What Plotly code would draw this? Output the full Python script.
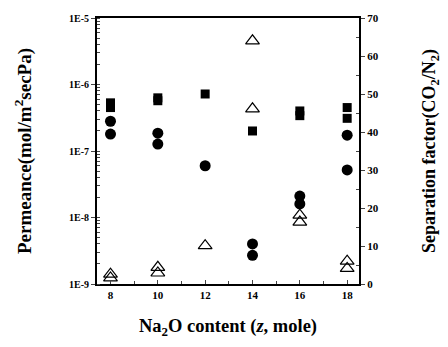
import plotly.graph_objects as go

# Data
sq_x = [8, 8, 10, 10, 12, 14, 16, 16, 18, 18]
sq_y = [5.3e-7, 4.5e-7, 6.3e-7, 5.7e-7, 7.2e-7, 2.0e-7, 4.0e-7, 3.4e-7, 4.5e-7, 3.1e-7]

ci_x = [8, 8, 10, 10, 12, 14, 14, 16, 16, 18, 18]
ci_y = [2.8e-7, 1.8e-7, 1.85e-7, 1.27e-7, 6.0e-8, 4.0e-9, 2.7e-9, 2.1e-8, 1.6e-8, 1.73e-7, 5.2e-8]

tr_x = [8, 8, 10, 10, 12, 14, 14, 16, 16, 18, 18]
tr_y = [2.6, 1.6, 4.4, 2.9, 10.1, 64.0, 46.1, 18.1, 16.3, 6.0, 4.1]

left_tickvals = [1e-9, 1e-8, 1e-7, 1e-6, 1e-5]
left_ticktext = ["1E-9", "1E-8", "1E-7", "1E-6", "1E-5"]
x_ticks = [8, 10, 12, 14, 16, 18]
right_ticks = [0, 10, 20, 30, 40, 50, 60, 70]

FONT = "Liberation Serif"

fig = go.Figure()
fig.add_trace(go.Scatter(x=sq_x, y=sq_y, mode="markers", yaxis="y",
                         marker=dict(symbol="square", size=9, color="black"),
                         showlegend=False))
fig.add_trace(go.Scatter(x=ci_x, y=ci_y, mode="markers", yaxis="y",
                         marker=dict(symbol="circle", size=11, color="black"),
                         showlegend=False))
fig.add_trace(go.Scatter(x=tr_x, y=tr_y, mode="markers", yaxis="y2",
                         marker=dict(symbol="triangle-up-open", size=12, color="black",
                                     line=dict(width=1.2, color="black")),
                         showlegend=False))

fig.update_layout(
    width=448, height=347,
    margin=dict(l=97, r=78, t=14, b=63),
    paper_bgcolor="white", plot_bgcolor="white",
    font=dict(family=FONT, color="black"),
    xaxis=dict(
        range=[7.43, 18.5], tickvals=x_ticks, ticks="inside", ticklen=4,
        showline=True, linecolor="black", linewidth=2, mirror=True,
        showgrid=False, zeroline=False,
        tickfont=dict(family=FONT, size=11, color="black", weight="bold"),
        minor=dict(tickvals=[9, 11, 13, 15, 17], ticks="inside", ticklen=3, showgrid=False),
        title=dict(text="Na<sub>2</sub>O content (<i>z</i>, mole)",
                   font=dict(family=FONT, size=18.5, color="black", weight="bold"),
                   standoff=19),
    ),
    yaxis=dict(
        type="log", range=[-9, -5], tickvals=left_tickvals, ticktext=left_ticktext,
        ticks="outside", ticklen=4, showline=True, linecolor="black", linewidth=2,
        showgrid=False, zeroline=False,
        tickfont=dict(family=FONT, size=10, color="black", weight="bold"),
        minor=dict(ticks="inside", ticklen=3, showgrid=False, dtick="D1"),
        title=dict(text="Permeance(mol/m<sup>2</sup>secPa)",
                   font=dict(family=FONT, size=19, color="black", weight="bold"),
                   standoff=32),
    ),
    yaxis2=dict(
        overlaying="y", side="right", range=[0, 70], tickvals=right_ticks,
        ticks="outside", ticklen=4, showline=True, linecolor="black", linewidth=2,
        showgrid=False, zeroline=False,
        tickfont=dict(family=FONT, size=11, color="black", weight="bold"),
        minor=dict(tickvals=[5, 15, 25, 35, 45, 55, 65], ticks="inside", ticklen=3, showgrid=False),
        title=dict(text="Separation factor(CO<sub>2</sub>/N<sub>2</sub>)",
                   font=dict(family=FONT, size=18, color="black", weight="bold"),
                   standoff=45),
    ),
)

fig.write_html("out.html")
